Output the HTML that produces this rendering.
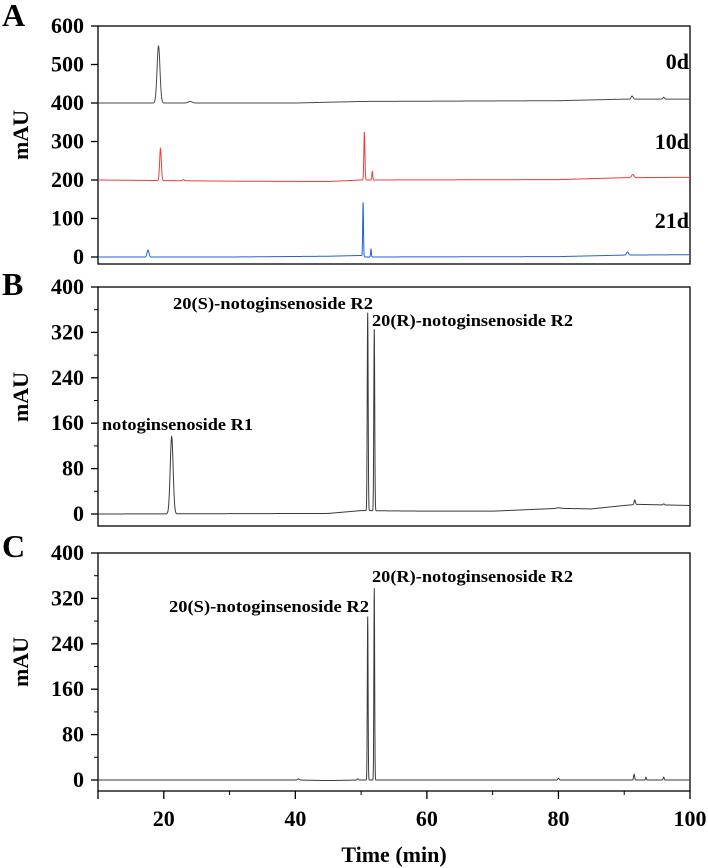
<!DOCTYPE html>
<html><head><meta charset="utf-8"><style>
html,body{margin:0;padding:0;background:#fff;}
svg{display:block;font-family:"Liberation Serif",serif;font-weight:bold;}
</style></head><body>
<svg id="chart" width="708" height="868" viewBox="0 0 708 868" xmlns="http://www.w3.org/2000/svg"></svg>
<script>
// ---- data ----
const xTicks = [20, 40, 60, 80, 100];
const xMinorTicks = [30, 50, 70, 90];
const aTicks = [0, 100, 200, 300, 400, 500, 600];
const bTicks = [0, 80, 160, 240, 320, 400];
const cTicks = [0, 80, 160, 240, 320, 400];
// baselines: [time, value]
const base0d = [[10,400],[40,400],[50,404],[80,406],[90,410],[100,410]];
const base10d = [[10,200],[30,197],[45,196],[50,200],[80,201],[90,206],[100,207]];
const base21d = [[10,0],[30,0],[45,2],[50,4],[50.6,0],[80,1],[90,5],[100,6]];
const baseB = [[10,0],[45,1],[50,6],[60,5],[70,5],[80,10],[85,9],[90,15],[92,17],[100,15]];
const baseC = [[10,0],[40,0],[45,-1],[50,0],[60,0],[100,0]];
// peaks: [time, height, width]
const peaks0d = [[19.2,148,0.22],[24,4,0.3],[91.2,8,0.15],[96,5,0.12]];
const peaks10d = [[19.5,83,0.13],[23,3,0.15],[50.5,125,0.08],[51.7,22,0.07],[91.3,8,0.18]];
const peaks21d = [[17.6,18,0.15],[50.3,140,0.06],[51.5,20,0.06],[90.5,8,0.15]];
const peaksB = [[21.2,136,0.22],[51.0,349,0.07],[52.0,320,0.07],[80,1,0.3],[91.6,8,0.1],[96,2,0.1]];
const peaksC = [[40.5,2,0.15],[49.5,2,0.1],[51.0,288,0.06],[52.0,338,0.06],[80,3,0.1],[91.5,10,0.08],[93.3,5,0.06],[96,5,0.08]];

const NS = "http://www.w3.org/2000/svg";
const svg = document.getElementById('chart');
const X0 = 98, X1 = 690;
function xs(t){ return X0 + (t-10)*(X1-X0)/90; }
function el(tag, attrs, parent){
  const e = document.createElementNS(NS, tag);
  for (const k in attrs) e.setAttribute(k, attrs[k]);
  (parent||svg).appendChild(e); return e;
}
function txt(s, attrs, parent){ const e = el('text', attrs, parent); e.textContent = s; return e; }
function baseAt(b, t){
  for (let i=0;i<b.length-1;i++){ if (t<=b[i+1][0]){ const f=(t-b[i][0])/(b[i+1][0]-b[i][0]); return b[i][1]+f*(b[i+1][1]-b[i][1]); } }
  return b[b.length-1][1];
}
function series(b, pk, ys, color, name, g){
  let d = '';
  for (let t=10; t<=100.0001; t+=0.02){
    let v = baseAt(b,t);
    for (const p of pk){ const z=(t-p[0])/p[2]; if (Math.abs(z)<6) v += p[1]*Math.exp(-0.5*z*z); }
    d += (d?'L':'M') + xs(t).toFixed(2) + ',' + ys(v).toFixed(2);
  }
  const p = el('path', {d:d, fill:'none', stroke:color, 'stroke-width':1}, g);
  
  
}
function panel(cfg){
  const g = el('g', {});
  
  
  const ys = v => cfg.y0 - (v - cfg.min) * (cfg.y0 - cfg.yTop) / (cfg.max - cfg.min);
  const r = el('rect', {x:X0, y:cfg.yTop, width:X1-X0, height:cfg.bottom-cfg.yTop, fill:'none', stroke:'#000', 'stroke-width':1.3}, g);
  
  
  cfg.ticks.forEach((v,i)=>{
    el('line', {x1:X0-7, x2:X0, y1:ys(v), y2:ys(v), stroke:'#000', 'stroke-width':1.3}, g);
    const t = txt(String(v), {x:84, y:ys(v)+7, 'text-anchor':'end', 'font-size':22}, g);
    
    
    if (cfg.minor && i < cfg.ticks.length-1){
      const m = (v + cfg.ticks[i+1]) / 2;
      el('line', {x1:X0-4, x2:X0, y1:ys(m), y2:ys(m), stroke:'#000', 'stroke-width':1}, g);
    }
  });
  const yt = txt('mAU', {x:0, y:0, 'text-anchor':'middle', 'font-size':22, transform:`translate(28,${cfg.labelY}) rotate(-90)`}, g);
  
  
  const L = txt(cfg.letter, {x:2, y:cfg.letterY, 'font-size':32}, g);
  
  
  return {g, ys};
}

// Panel A
const A = panel({name:'panel-a', yTop:26, y0:257, bottom:264, min:0, max:600, ticks:aTicks, minor:false, labelY:135, letter:'A', letterY:26});
series(base0d, peaks0d, A.ys, '#4a4a4a', 'series-0d', A.g);
series(base10d, peaks10d, A.ys, '#f03c3c', 'series-10d', A.g);
series(base21d, peaks21d, A.ys, '#1f63d6', 'series-21d', A.g);
[['0d',69],['10d',149],['21d',228]].forEach(([s,y])=>{
  const t = txt(s, {x:689, y:y, 'text-anchor':'end', 'font-size':22}, A.g);
  
  
});

// Panel B
const B = panel({name:'panel-b', yTop:287, y0:514, bottom:526, min:0, max:400, ticks:bTicks, minor:true, labelY:397, letter:'B', letterY:295});
[['20(S)-notoginsenoside R2',173,309,200],['20(R)-notoginsenoside R2',372,326,201],['notoginsenoside R1',102,430,151]].forEach(([s,x,y,w])=>{
  const t = txt(s, {x:x, y:y, 'font-size':17, textLength:w, lengthAdjust:'spacingAndGlyphs'}, B.g);
  
  
});
series(baseB, peaksB, B.ys, '#3a3a3a', 'series-standard', B.g);

// Panel C
const C = panel({name:'panel-c', yTop:553, y0:780, bottom:791, min:0, max:400, ticks:cTicks, minor:true, labelY:662, letter:'C', letterY:557});
[['20(R)-notoginsenoside R2',372,582,201],['20(S)-notoginsenoside R2',169,612,200]].forEach(([s,x,y,w])=>{
  const t = txt(s, {x:x, y:y, 'font-size':17, textLength:w, lengthAdjust:'spacingAndGlyphs'}, C.g);
  
  
});
series(baseC, peaksC, C.ys, '#3a3a3a', 'series-sample', C.g);

// X axis (bottom)
xTicks.concat([10]).forEach(v=>{
  el('line', {x1:xs(v), x2:xs(v), y1:791, y2:799, stroke:'#000', 'stroke-width':1.3});
});
xMinorTicks.forEach(v=>{
  el('line', {x1:xs(v), x2:xs(v), y1:791, y2:795, stroke:'#000', 'stroke-width':1});
});
xTicks.forEach(v=>{
  const t = txt(String(v), {x:xs(v), y:826, 'text-anchor':'middle', 'font-size':22});
  
  
});
const xt = txt('Time (min)', {x:394, y:862, 'text-anchor':'middle', 'font-size':22});


</script>
</body></html>
